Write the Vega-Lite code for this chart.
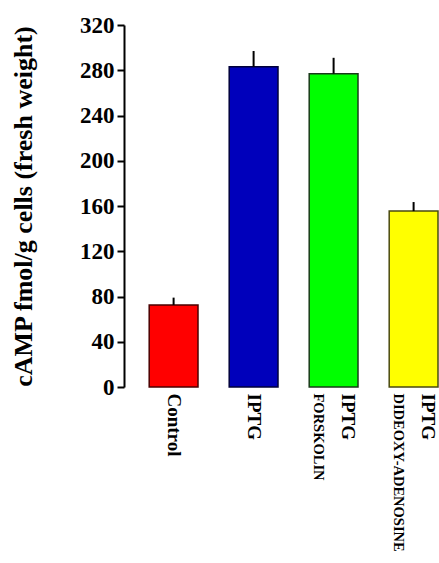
{
  "$schema": "https://vega.github.io/schema/vega-lite/v6.json",
  "autosize": "none",
  "width": 314,
  "height": 362,
  "padding": {"left": 124, "top": 25, "right": 1, "bottom": 176},
  "background": "white",
  "config": {"view": {"stroke": null}, "font": "Liberation Serif"},
  "data": {"values": [
    {"treatment": "Control", "value": 72.5, "upper": 79},
    {"treatment": "IPTG", "value": 283, "upper": 297},
    {"treatment": "IPTG+FORSKOLIN", "value": 277, "upper": 291},
    {"treatment": "IPTG+DIDEOXY-ADENOSINE", "value": 155.5, "upper": 163.5}
  ]},
  "resolve": {"axis": {"x": "independent"}},
  "layer": [
    {
      "mark": {"type": "bar", "strokeWidth": 1.5},
      "encoding": {
        "x": {
          "field": "treatment", "type": "nominal", "sort": null,
          "scale": {"paddingInner": 0.39, "paddingOuter": 0.1575, "align": 1},
          "axis": {
            "title": null, "orient": "bottom", "domain": false, "ticks": false,
            "labelAngle": 90, "labelPadding": 6, "labelLimit": 0,
            "labelFont": "Liberation Serif", "labelFontWeight": "bold", "labelFontSize": 19, "labelColor": "black",
            "labelExpr": "split(datum.value, '+')[0]",
            "labelOffset": {"condition": {"test": "indexof(datum.value, '+') >= 0", "value": 14}, "value": 0}
          }
        },
        "y": {
          "field": "value", "type": "quantitative",
          "scale": {"domain": [0, 320], "nice": false},
          "axis": {
            "title": "cAMP fmol/g cells (fresh weight)",
            "values": [0, 40, 80, 120, 160, 200, 240, 280, 320],
            "grid": false, "domainColor": "black", "domainWidth": 2,
            "tickColor": "black", "tickWidth": 2, "tickSize": 7, "labelPadding": 3,
            "labelFont": "Liberation Serif", "labelFontWeight": "bold", "labelFontSize": 23, "labelColor": "black",
            "titleFont": "Liberation Serif", "titleFontWeight": "bold", "titleFontSize": 26, "titleColor": "black",
            "titleX": -101, "titleBaseline": "middle"
          }
        },
        "fill": {
          "field": "treatment", "type": "nominal", "legend": null,
          "scale": {"domain": ["Control", "IPTG", "IPTG+FORSKOLIN", "IPTG+DIDEOXY-ADENOSINE"], "range": ["#ff0000", "#0000bb", "#00ff00", "#ffff00"]}
        },
        "stroke": {
          "field": "treatment", "type": "nominal", "legend": null,
          "scale": {"domain": ["Control", "IPTG", "IPTG+FORSKOLIN", "IPTG+DIDEOXY-ADENOSINE"], "range": ["#4a0000", "#00003a", "#1a3a1a", "#4a4a10"]}
        }
      }
    },
    {
      "mark": {"type": "rule", "color": "black", "strokeWidth": 2},
      "encoding": {
        "x": {
          "field": "treatment", "type": "nominal", "sort": null,
          "axis": {
            "title": null, "orient": "bottom", "domain": false, "ticks": false,
            "labelAngle": 90, "labelPadding": 6, "labelLimit": 0,
            "labelFont": "Liberation Serif", "labelFontWeight": "bold", "labelFontSize": 14.5, "labelColor": "black",
            "labelExpr": "indexof(datum.value, '+') >= 0 ? split(datum.value, '+')[1] : ''",
            "labelOffset": -16
          }
        },
        "y": {"field": "value", "type": "quantitative", "title": "cAMP fmol/g cells (fresh weight)", "scale": {"domain": [0, 320], "nice": false}},
        "y2": {"field": "upper"}
      }
    }
  ]
}
